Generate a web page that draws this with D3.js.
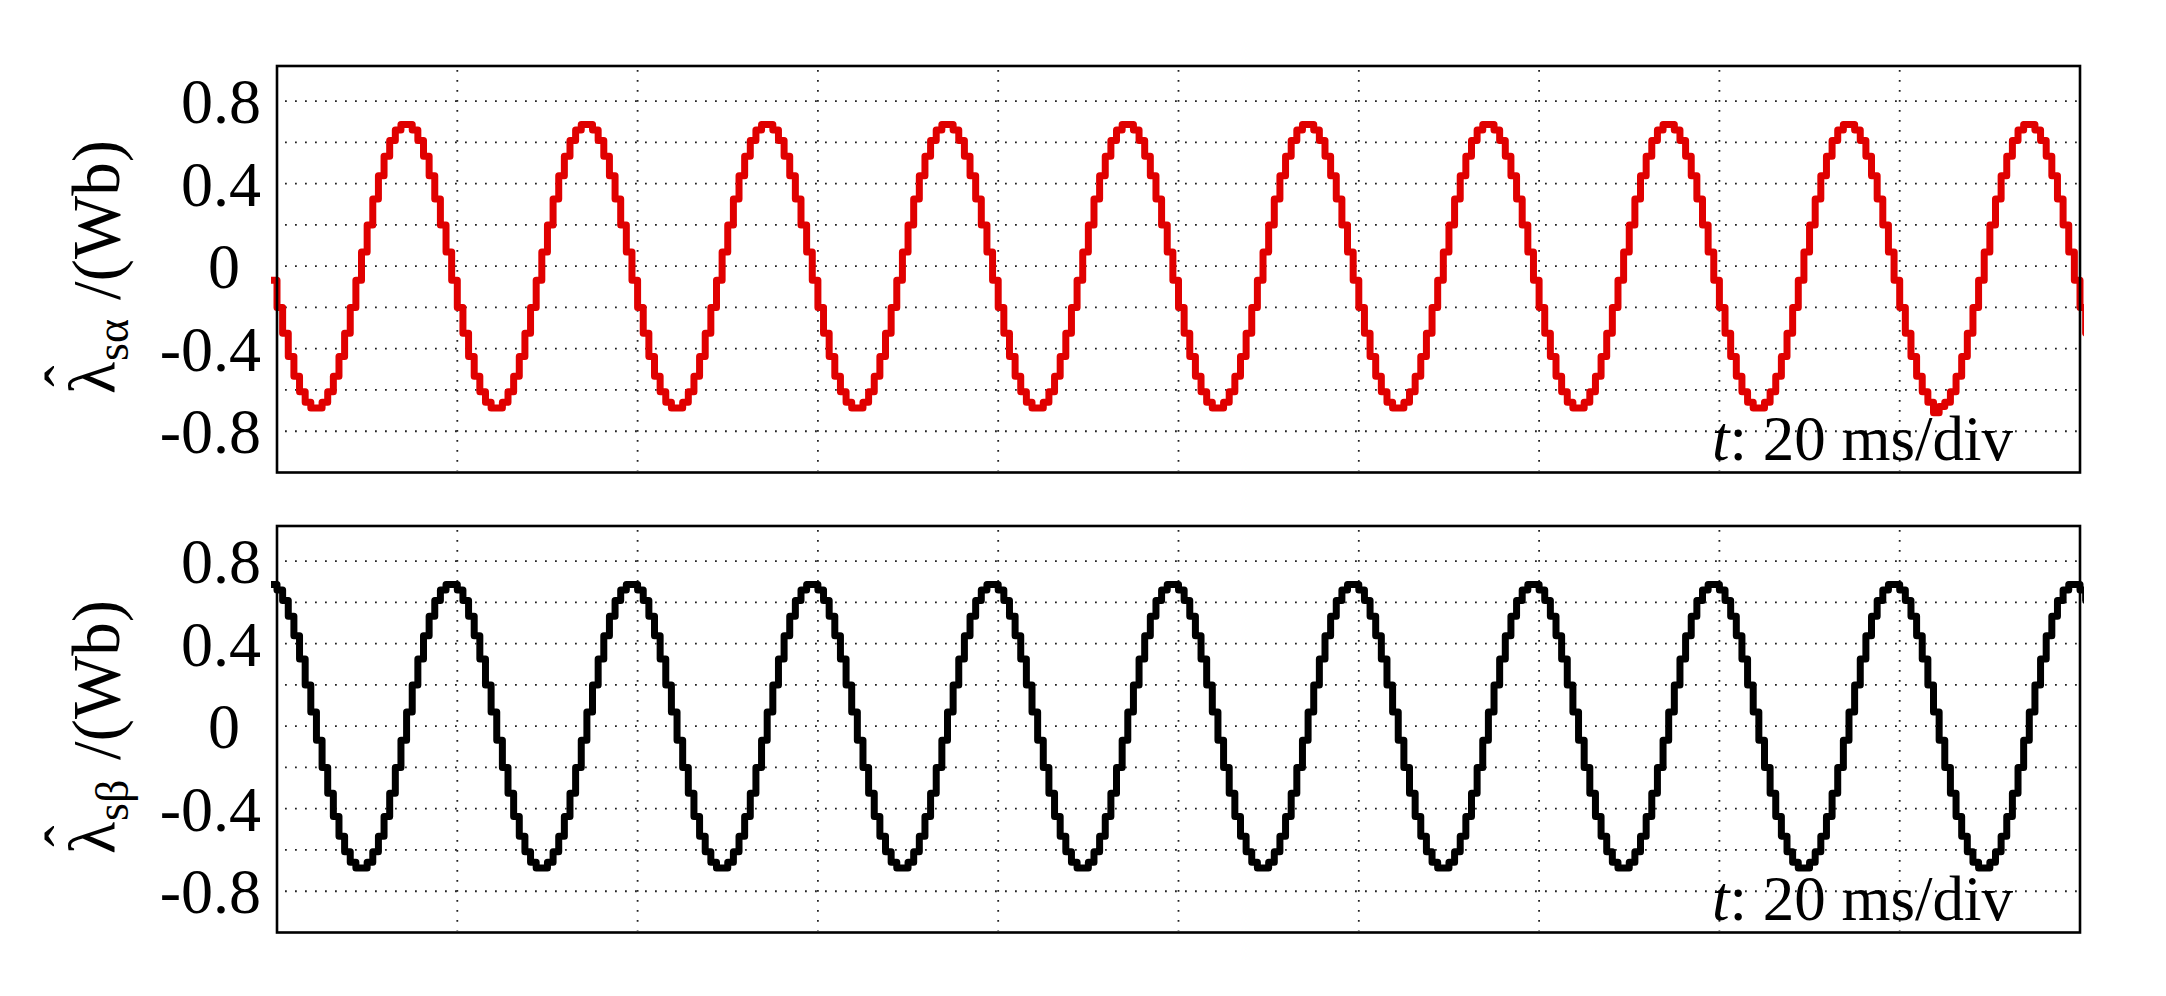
<!DOCTYPE html>
<html>
<head>
<meta charset="utf-8">
<script src="https://cdn.jsdelivr.net/npm/d3@7/dist/d3.min.js"></script>
<style>
html,body{margin:0;padding:0;background:#fff;}
svg{display:block;}
</style>
</head>
<body>
<svg id="chart" width="2166" height="996"></svg>
<script>
// ---- data ----
const timeStartMs = -0.625;      // first held sample (just before the screen's left edge)
const sampleStepMs = 0.625;      // sample-and-hold interval
const timeGridMs = [20, 40, 60, 80, 100, 120, 140, 160, 180];
const valueGrid = [-0.8, -0.6, -0.4, -0.2, 0, 0.2, 0.4, 0.6, 0.8];
const tickValues = [0.8, 0.4, 0, -0.4, -0.8];
const tickLabels = ["0.8", "0.4", "0", "-0.4", "-0.8"];
const noteLabel = "20 ms/div";

// estimated stator flux alpha component (Wb), one held sample per step
const lambdaAlpha = [
 -0.068,
 -0.2,-0.325,-0.438,-0.533,-0.609,-0.66,-0.687,-0.687,-0.66,-0.609,-0.533,-0.438,-0.325,-0.2,-0.068,0.068,0.2,0.325,0.438,0.533,0.609,0.66,0.687,0.687,0.66,0.609,0.533,0.438,0.325,0.2,0.068,-0.068,
 -0.2,-0.325,-0.438,-0.533,-0.609,-0.66,-0.687,-0.687,-0.66,-0.609,-0.533,-0.438,-0.325,-0.2,-0.068,0.068,0.2,0.325,0.438,0.533,0.609,0.66,0.687,0.687,0.66,0.609,0.533,0.438,0.325,0.2,0.068,-0.068,
 -0.2,-0.325,-0.438,-0.533,-0.609,-0.66,-0.687,-0.687,-0.66,-0.609,-0.533,-0.438,-0.325,-0.2,-0.068,0.068,0.2,0.325,0.438,0.533,0.609,0.66,0.687,0.687,0.66,0.609,0.533,0.438,0.325,0.2,0.068,-0.068,
 -0.2,-0.325,-0.438,-0.533,-0.609,-0.66,-0.687,-0.687,-0.66,-0.609,-0.533,-0.438,-0.325,-0.2,-0.068,0.068,0.2,0.325,0.438,0.533,0.609,0.66,0.687,0.687,0.66,0.609,0.533,0.438,0.325,0.2,0.068,-0.068,
 -0.2,-0.325,-0.438,-0.533,-0.609,-0.66,-0.687,-0.687,-0.66,-0.609,-0.533,-0.438,-0.325,-0.2,-0.068,0.068,0.2,0.325,0.438,0.533,0.609,0.66,0.687,0.687,0.66,0.609,0.533,0.438,0.325,0.2,0.068,-0.068,
 -0.2,-0.325,-0.438,-0.533,-0.609,-0.66,-0.687,-0.687,-0.66,-0.609,-0.533,-0.438,-0.325,-0.2,-0.068,0.068,0.2,0.325,0.438,0.533,0.609,0.66,0.687,0.687,0.66,0.609,0.533,0.438,0.325,0.2,0.068,-0.068,
 -0.2,-0.325,-0.438,-0.533,-0.609,-0.66,-0.687,-0.687,-0.66,-0.609,-0.533,-0.438,-0.325,-0.2,-0.068,0.068,0.2,0.325,0.438,0.533,0.609,0.66,0.687,0.687,0.66,0.609,0.533,0.438,0.325,0.2,0.068,-0.068,
 -0.2,-0.325,-0.438,-0.533,-0.609,-0.66,-0.687,-0.687,-0.66,-0.609,-0.533,-0.438,-0.325,-0.2,-0.068,0.068,0.2,0.325,0.438,0.533,0.609,0.66,0.687,0.687,0.66,0.609,0.533,0.438,0.325,0.2,0.068,-0.068,
 -0.2,-0.325,-0.438,-0.533,-0.609,-0.66,-0.687,-0.687,-0.66,-0.609,-0.533,-0.438,-0.325,-0.2,-0.068,0.068,0.2,0.325,0.438,0.533,0.609,0.66,0.687,0.687,0.66,0.609,0.533,0.438,0.325,0.2,0.068,-0.068,
 -0.2,-0.325,-0.438,-0.533,-0.609,-0.66,-0.71,-0.68,-0.66,-0.609,-0.533,-0.438,-0.325,-0.2,-0.068,0.068,0.2,0.325,0.438,0.533,0.609,0.66,0.687,0.687,0.66,0.609,0.533,0.438,0.325,0.2,0.068,-0.068,
 -0.2,-0.325
];

// estimated stator flux beta component (Wb)
const lambdaBeta = [
 0.687,
 0.66,0.609,0.533,0.438,0.325,0.2,0.068,-0.068,-0.2,-0.325,-0.438,-0.533,-0.609,-0.66,-0.687,-0.687,-0.66,-0.609,-0.533,-0.438,-0.325,-0.2,-0.068,0.068,0.2,0.325,0.438,0.533,0.609,0.66,0.687,0.687,
 0.66,0.609,0.533,0.438,0.325,0.2,0.068,-0.068,-0.2,-0.325,-0.438,-0.533,-0.609,-0.66,-0.687,-0.687,-0.66,-0.609,-0.533,-0.438,-0.325,-0.2,-0.068,0.068,0.2,0.325,0.438,0.533,0.609,0.66,0.687,0.687,
 0.66,0.609,0.533,0.438,0.325,0.2,0.068,-0.068,-0.2,-0.325,-0.438,-0.533,-0.609,-0.66,-0.687,-0.687,-0.66,-0.609,-0.533,-0.438,-0.325,-0.2,-0.068,0.068,0.2,0.325,0.438,0.533,0.609,0.66,0.687,0.687,
 0.66,0.609,0.533,0.438,0.325,0.2,0.068,-0.068,-0.2,-0.325,-0.438,-0.533,-0.609,-0.66,-0.687,-0.687,-0.66,-0.609,-0.533,-0.438,-0.325,-0.2,-0.068,0.068,0.2,0.325,0.438,0.533,0.609,0.66,0.687,0.687,
 0.66,0.609,0.533,0.438,0.325,0.2,0.068,-0.068,-0.2,-0.325,-0.438,-0.533,-0.609,-0.66,-0.687,-0.687,-0.66,-0.609,-0.533,-0.438,-0.325,-0.2,-0.068,0.068,0.2,0.325,0.438,0.533,0.609,0.66,0.687,0.687,
 0.66,0.609,0.533,0.438,0.325,0.2,0.068,-0.068,-0.2,-0.325,-0.438,-0.533,-0.609,-0.66,-0.687,-0.687,-0.66,-0.609,-0.533,-0.438,-0.325,-0.2,-0.068,0.068,0.2,0.325,0.438,0.533,0.609,0.66,0.687,0.687,
 0.66,0.609,0.533,0.438,0.325,0.2,0.068,-0.068,-0.2,-0.325,-0.438,-0.533,-0.609,-0.66,-0.687,-0.687,-0.66,-0.609,-0.533,-0.438,-0.325,-0.2,-0.068,0.068,0.2,0.325,0.438,0.533,0.609,0.66,0.687,0.687,
 0.66,0.609,0.533,0.438,0.325,0.2,0.068,-0.068,-0.2,-0.325,-0.438,-0.533,-0.609,-0.66,-0.687,-0.687,-0.66,-0.609,-0.533,-0.438,-0.325,-0.2,-0.068,0.068,0.2,0.325,0.438,0.533,0.609,0.66,0.687,0.687,
 0.66,0.609,0.533,0.438,0.325,0.2,0.068,-0.068,-0.2,-0.325,-0.438,-0.533,-0.609,-0.66,-0.687,-0.687,-0.66,-0.609,-0.533,-0.438,-0.325,-0.2,-0.068,0.068,0.2,0.325,0.438,0.533,0.609,0.66,0.687,0.687,
 0.66,0.609,0.533,0.438,0.325,0.2,0.068,-0.068,-0.2,-0.325,-0.438,-0.533,-0.609,-0.66,-0.687,-0.687,-0.66,-0.609,-0.533,-0.438,-0.325,-0.2,-0.068,0.068,0.2,0.325,0.438,0.533,0.609,0.66,0.687,0.687,
 0.66,0.609
];

// ---- drawing ----
const svg = d3.select("#chart");
const font = "'Liberation Serif','Times New Roman',serif";
const defs = svg.append("defs");
const x = d3.scaleLinear().domain([0, 200]).range([277, 2080]);

const panels = [
  {top: 66,  bottom: 472.5, values: lambdaAlpha, color: "#e00000", sub: "s\u03B1"},
  {top: 526, bottom: 932.5, values: lambdaBeta,  color: "#000000", sub: "s\u03B2"}
];

panels.forEach((p, pi) => {
  const y = d3.scaleLinear().domain([-1.0, 0.97]).range([p.bottom, p.top]);
  const g = svg.append("g");

  const clipId = "clip" + pi;
  defs.append("clipPath").attr("id", clipId).append("rect")
    .attr("x", x(0) - 6).attr("y", p.top)
    .attr("width", x(200) - x(0) + 10).attr("height", p.bottom - p.top);

  // dotted grid
  g.append("g").selectAll("line").data(valueGrid).join("line")
    .attr("x1", x(0) + 8).attr("x2", x(200) - 2)
    .attr("y1", d => y(d)).attr("y2", d => y(d))
    .attr("stroke", "#222").attr("stroke-width", 1.8)
    .attr("stroke-dasharray", "1.8 8.2");
  g.append("g").selectAll("line").data(timeGridMs).join("line")
    .attr("x1", d => x(d)).attr("x2", d => x(d))
    .attr("y1", p.top + 4).attr("y2", p.bottom - 2)
    .attr("stroke", "#222").attr("stroke-width", 1.8)
    .attr("stroke-dasharray", "1.8 8.2");

  // trace (sample-and-hold)
  const line = d3.line()
    .x((d, i) => x(timeStartMs + i * sampleStepMs))
    .y(d => y(d))
    .curve(d3.curveStepAfter);
  g.append("path").datum(p.values)
    .attr("d", line)
    .attr("fill", "none")
    .attr("stroke", p.color)
    .attr("stroke-width", 7)
    .attr("stroke-linejoin", "round")
    .attr("stroke-linecap", "round")
    .attr("clip-path", `url(#${clipId})`);

  // frame
  g.append("rect")
    .attr("x", x(0)).attr("y", p.top)
    .attr("width", x(200) - x(0)).attr("height", p.bottom - p.top)
    .attr("fill", "none").attr("stroke", "#000").attr("stroke-width", 2.6);

  // y tick labels
  const ax = d3.axisLeft(y).tickValues(tickValues)
    .tickFormat((d, i) => tickLabels[i]).tickSize(0).tickPadding(0);
  const axg = g.append("g").attr("transform", "translate(261,0)").call(ax);
  axg.select(".domain").remove();
  axg.selectAll("text")
    .attr("font-family", font).attr("font-size", 64).attr("fill", "#000")
    .attr("dy", "0.34em");
  axg.selectAll(".tick text").filter(d => d === 0)
    .attr("text-anchor", "middle").attr("x", -37);

  // time-base note
  const note = g.append("text")
    .attr("x", 1712).attr("y", p.top + 394)
    .attr("font-family", font).attr("font-size", 63).attr("fill", "#000");
  note.append("tspan").attr("font-style", "italic").text("t");
  note.append("tspan").text(": " + noteLabel);

  // y title: λ̂_sα /(Wb)
  const lab = g.append("g")
    .attr("transform", `translate(114,${p.top + 328}) rotate(-90)`);
  const lam = lab.append("text").attr("x", 0).attr("y", 0)
    .attr("font-family", font).attr("font-size", 66).attr("fill", "#000")
    .text("\u03BB");
  const lw = lam.node().getComputedTextLength();
  lab.append("text").attr("x", lw / 2 + 2).attr("y", -25)
    .attr("text-anchor", "middle")
    .attr("font-family", font).attr("font-size", 64).attr("fill", "#000")
    .text("\u02C6");
  lab.append("text").attr("x", lw + 1).attr("y", 14)
    .attr("font-family", font).attr("font-size", 46).attr("fill", "#000")
    .text(p.sub);
  lab.append("text").attr("x", 94).attr("y", 5)
    .attr("font-family", font).attr("font-size", 67).attr("fill", "#000")
    .text("/(Wb)");
});
</script>
</body>
</html>
